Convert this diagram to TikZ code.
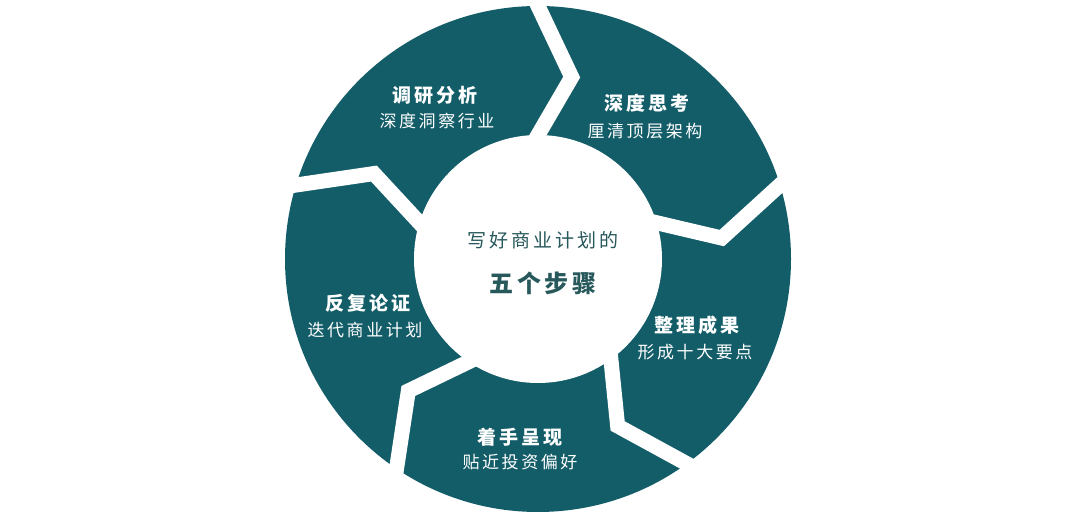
\documentclass[tikz,border=0pt]{standalone}
\usepackage{fontspec}
\usetikzlibrary{calc}
\newfontfamily\cjk[LetterSpace=15]{Noto Sans CJK SC}
\definecolor{ring}{HTML}{135D69}
\definecolor{ctext}{HTML}{27585B}
\begin{document}
\begin{tikzpicture}[x=1pt,y=1pt]
\tikzset{
 gapline/.style={white, line width=15pt, line join=miter, shorten <=-25pt, shorten >=-25pt},
 ttl/.style={text=white, inner sep=0pt, font=\cjk\bfseries\fontsize{19}{22}\selectfont},
 sub/.style={text=white, inner sep=0pt, font=\cjk\fontsize{17}{20}\selectfont},
 ctr/.style={text=ctext, inner sep=0pt, font=\cjk\fontsize{19}{22}\selectfont},
 ctrbig/.style={text=ctext, inner sep=0pt, font=\cjk\bfseries\fontsize{24}{28}\selectfont},
}
\useasboundingbox (0,0) rectangle (1080,521);
\fill[white] (0,0) rectangle (1080,521);
\coordinate (c) at (538,262);
\fill[ring] (c) circle (253pt);
\foreach \a in {90,17,-54,-124,163} {
  \draw[gapline] ($(c)+(\a:253)$) -- ($(c)+(\a-10.5:185)$) -- ($(c)+(\a:124)$);
}
\fill[white] (c) circle (124pt);
\node[ttl] (t1) at (435,426) {调研分析};
\node[sub] (s1) at (437,400) {深度洞察行业};
\node[ttl] (t2) at (647,418) {深度思考};
\node[sub] (s2) at (645,390) {厘清顶层架构};
\node[ttl] (t3) at (697,196) {整理成果};
\node[sub] (s3) at (695,169) {形成十大要点};
\node[ttl] (t4) at (520,84) {着手呈现};
\node[sub] (s4) at (520,59) {贴近投资偏好};
\node[ttl] (t5) at (368,218) {反复论证};
\node[sub] (s5) at (365,191) {迭代商业计划};
\node[ctr] (m1) at (543,281) {写好商业计划的};
\node[ctrbig] (m2) at (543,238) {五个步骤};
\end{tikzpicture}
\end{document}
